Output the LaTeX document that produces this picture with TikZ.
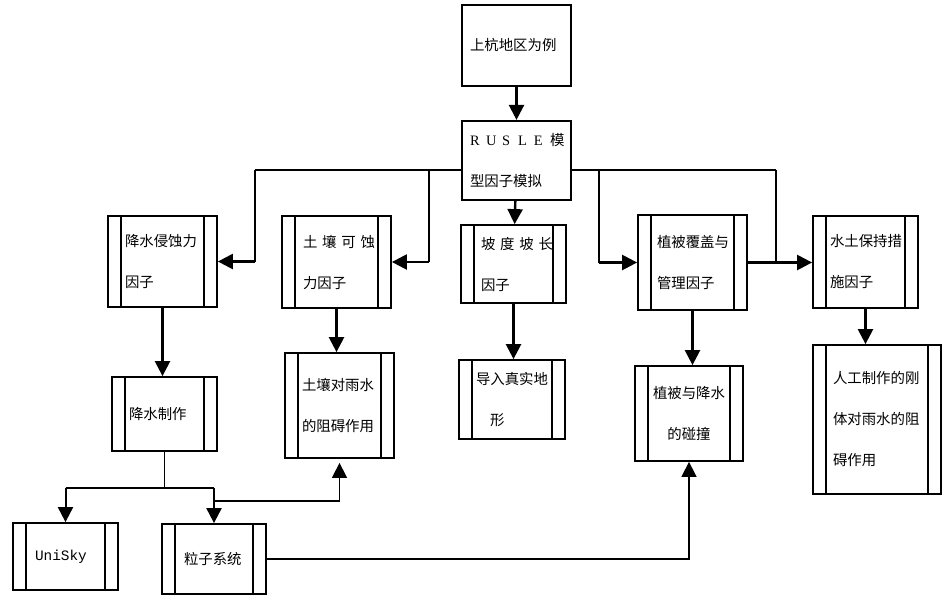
\documentclass[tikz,border=0pt]{standalone}
\usepackage{fontspec}
\setmainfont{Noto Sans CJK SC}
\newfontfamily\latinserif{Liberation Serif}
\newfontfamily\latinmono{Liberation Mono}
\usetikzlibrary{positioning,arrows.meta}
\tikzset{main node/.style={rectangle,draw,line width=1.8pt,inner sep=0pt,align=left,font=\fontsize{14.4}{41}\selectfont}}
\tikzset{process node/.style={main node,path picture={
  \draw[line width=1.4pt] ([xshift=13pt]path picture bounding box.north west) -- ([xshift=13pt]path picture bounding box.south west)
    ([xshift=-13pt]path picture bounding box.north east) -- ([xshift=-13pt]path picture bounding box.south east);}}}
\tikzset{flow arrow/.style={line width=2.4pt,-{Triangle[length=15pt,width=15pt]}}}
\tikzset{bus line/.style={line width=1.2pt}}

\begin{document}
\begin{tikzpicture}[x=1pt,y=-1pt]
    \useasboundingbox (0,0) rectangle (942,598);

    \node[main node,minimum width=109pt,minimum height=81pt,text width=93pt] (1) at (516.5,45.5) {上杭地区为例};
    \node[main node,minimum width=109pt,minimum height=79pt,text width=93pt] (2) [below = 33pt of 1]
        {{\latinserif\makebox[16pt][l]{R}\makebox[16pt][l]{U}\makebox[16pt][l]{S}\makebox[16pt][l]{L}\makebox[16pt][l]{E}}模\\型因子模拟};

    \node[process node,minimum width=109pt,minimum height=91pt,text width=75pt] (3) at (162.5,261.5) {降水侵蚀力\\因子};
    \node[process node,minimum width=109pt,minimum height=92pt,text width=67pt] (4) at (336.5,262) {土~壤~可~蚀\\力因子};
    \node[process node,minimum width=105pt,minimum height=78pt,text width=65pt] (5) at (513.5,264) {坡~度~坡~长\\因子};
    \node[process node,minimum width=109pt,minimum height=95pt,text width=71pt] (6) at (692.5,262.5) {植被覆盖与\\管理因子};
    \node[process node,minimum width=105pt,minimum height=92pt,text width=71pt] (7) at (865.5,262) {水土保持措\\施因子};

    \node[process node,minimum width=105pt,minimum height=74pt,text width=71pt] (8) at (164.5,414) {降水制作};
    \node[process node,minimum width=109pt,minimum height=105pt,text width=75pt] (9) at (339.5,405.5) {土壤对雨水\\的阻碍作用};
    \node[process node,minimum width=106pt,minimum height=79pt,text width=72pt] (10) at (512,399.5) {导入真实地\\\hspace*{14pt}形};
    \node[process node,minimum width=108pt,minimum height=95pt,text width=80pt,align=center] (11) at (689,413.5) {植被与降水\\的碰撞};
    \node[process node,minimum width=128pt,minimum height=149pt,text width=88pt] (12) at (877,419.5) {人工制作的刚\\体对雨水的阻\\碍作用};

    \node[process node,minimum width=105pt,minimum height=67pt,text width=61pt] (13) at (65.5,556.5) {\latinmono UniSky};
    \node[process node,minimum width=104pt,minimum height=70pt,text width=60pt] (14) at (214,559) {粒子系统};

    % RUSLE branches
    \coordinate (b1) at (255,170);
    \coordinate (b2) at (429,170);
    \coordinate (b4) at (599,170);
    \coordinate (b5) at (776,170);

    \draw[flow arrow] (1) -- (2);
    \draw[bus line] (b1) -- (2.west |- b1);
    \draw[bus line] (2.east |- b5) -- (b5);
    \draw[bus line] (b1) -- (b1 |- 3.east);
    \draw[flow arrow] (b1 |- 3.east) -- (3.east);
    \draw[bus line] (b2) -- (b2 |- 4.east);
    \draw[flow arrow] (b2 |- 4.east) -- (4.east);
    \draw[flow arrow] (2) -- (5);
    \draw[bus line] (b4) -- (b4 |- 6.west);
    \draw[flow arrow] (b4 |- 6.west) -- (6.west);
    \draw[bus line] (b5) -- (b5 |- 6.east);
    \draw[flow arrow] (6.east) -- (6.east -| 7.west);

    \draw[flow arrow] (3.south) -- (3.south |- 8.north);
    \draw[flow arrow] (4.south) -- (4.south |- 9.north);
    \draw[flow arrow] (5.south) -- (5.south |- 10.north);
    \draw[flow arrow] (6.south) -- (6.south |- 11.north);
    \draw[flow arrow] (7.south) -- (7.south |- 12.north);

    % rain split
    \coordinate (j1) at ([yshift=-36pt]8.south);
    \coordinate (j2) at ([yshift=-13pt]j1);
    \draw[bus line] (8.south) -- (j1);
    \draw[line width=1.6pt] (j1 -| 13.north) -- (j1 -| 14.north);
    \draw[flow arrow,line width=2pt] (j1 -| 13.north) -- (13.north);
    \draw[flow arrow,line width=2pt] (j1 -| 14.north) -- (14.north);
    \draw[flow arrow,line width=1.6pt,shorten >=4pt] (j2 -| 14.north) -| (9.south);
    \draw[flow arrow,line width=1.6pt] (14.east) -| (11.south);
\end{tikzpicture}
\end{document}
